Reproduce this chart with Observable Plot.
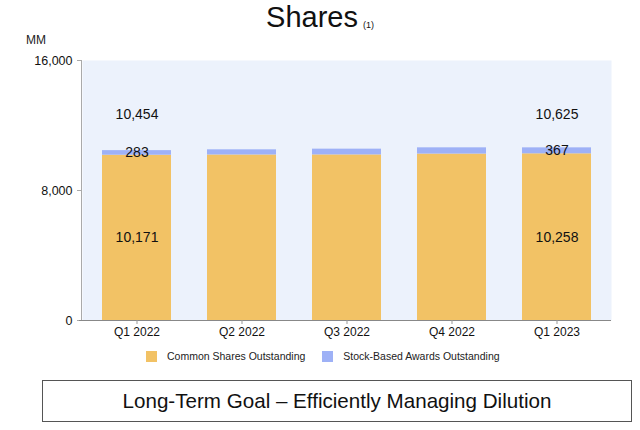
<!DOCTYPE html>
<html>
<head>
<meta charset="utf-8">
<script src="https://cdn.jsdelivr.net/npm/d3@7"></script>
<script src="https://cdn.jsdelivr.net/npm/@observablehq/plot@0.6"></script>
<style>
  html, body { margin: 0; padding: 0; background: #fff; }
  body { width: 640px; height: 430px; position: relative; overflow: hidden; font-family: "Liberation Sans", Arial, sans-serif; color: #111; }
  #chart { position: absolute; left: 0; top: 0; }
  .title { position: absolute; top: 1px; left: 0; width: 640px; text-align: center; font-size: 29px; color: #111; }
  .title sub { font-size: 9px; vertical-align: baseline; position: relative; top: 1px; margin-left: 5px; }
  .mm { position: absolute; left: 26px; top: 33px; font-size: 12px; color: #222; }
  .legend { position: absolute; top: 350px; left: 146px; font-size: 10.5px; color: #222; display: flex; align-items: center; }
  .legend .sw { display: inline-block; width: 11px; height: 11px; margin-right: 10px; }
  .legend .item { display: flex; align-items: center; margin-right: 17px; }
  .goal { position: absolute; left: 42px; top: 380px; width: 588px; height: 40px; border: 1px solid #555; box-sizing: content-box; text-align: center; font-size: 20.6px; line-height: 40px; color: #111; }
</style>
</head>
<body>
<div id="chart"></div>
<div class="title">Shares<sub>(1)</sub></div>
<div class="mm">MM</div>
<div class="legend" id="legend"></div>
<div class="goal">Long-Term Goal – Efficiently Managing Dilution</div>
<script>
const quarters = ["Q1 2022", "Q2 2022", "Q3 2022", "Q4 2022", "Q1 2023"];
const commonShares = [10171, 10187, 10191, 10242, 10258];
const stockAwards = [283, 317, 353, 384, 367];
const seriesNames = ["Common Shares Outstanding", "Stock-Based Awards Outstanding"];
const seriesColors = ["#F2C265", "#9EB1F6"];
const labeledQuarters = ["Q1 2022", "Q1 2023"];
const yTicks = [0, 8000, 16000];

const rows = [];
quarters.forEach((q, i) => {
  rows.push({quarter: q, series: seriesNames[0], value: commonShares[i]});
  rows.push({quarter: q, series: seriesNames[1], value: stockAwards[i]});
});
const labelRows = quarters.map((q, i) => ({
  quarter: q,
  common: commonShares[i],
  awards: stockAwards[i],
  total: commonShares[i] + stockAwards[i]
})).filter(d => labeledQuarters.includes(d.quarter));
const labelTop = d3.max(labelRows, d => d.total);

const fmt = d3.format(",");

const chart = Plot.plot({
  width: 640,
  height: 345,
  marginTop: 60,
  marginBottom: 25,
  marginLeft: 82,
  marginRight: 29,
  style: {fontFamily: "'Liberation Sans', Arial, sans-serif", fontSize: "12px", color: "#222", background: "transparent"},
  x: {domain: quarters, paddingInner: 0.34, paddingOuter: 0.17, label: null},
  y: {domain: [0, 16000], label: null},
  color: {domain: seriesNames, range: seriesColors},
  marks: [
    Plot.frame({fill: "#ECF2FC", stroke: null}),
    Plot.barY(rows, {x: "quarter", y: "value", fill: "series", order: seriesNames}),
    Plot.frame({anchor: "left", stroke: "#AAAAAA", dx: -1}),
    Plot.axisY(yTicks, {tickSize: 5, tickPadding: 5, tickFormat: fmt, stroke: "#AAAAAA", fill: "#111", fontSize: 12.5}),
    Plot.ruleY([0], {stroke: "#888888", insetLeft: -3}),
    Plot.axisX({tickSize: 4, tickPadding: 3, stroke: "#999999", fill: "#111", fontSize: 12}),
    Plot.text(labelRows, {x: "quarter", y: d => d.common / 2, text: d => fmt(d.common), fontSize: 14, fill: "#111"}),
    Plot.text(labelRows, {x: "quarter", y: d => d.common + d.awards / 2, text: d => fmt(d.awards), fontSize: 14, fill: "#111"}),
    Plot.text(labelRows, {x: "quarter", y: () => labelTop, text: d => fmt(d.total), dy: -33, fontSize: 14, fill: "#111"})
  ]
});
document.getElementById("chart").appendChild(chart);

const legend = document.getElementById("legend");
seriesNames.forEach((name, i) => {
  const item = document.createElement("span");
  item.className = "item";
  const sw = document.createElement("span");
  sw.className = "sw";
  sw.style.background = seriesColors[i];
  item.appendChild(sw);
  item.appendChild(document.createTextNode(name));
  legend.appendChild(item);
});
</script>
</body>
</html>
